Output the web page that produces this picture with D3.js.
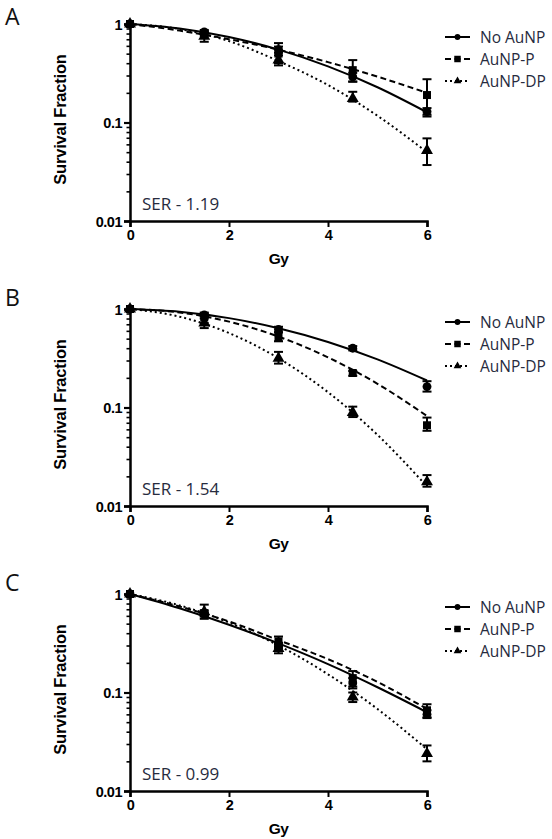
<!DOCTYPE html>
<html>
<head>
<meta charset="utf-8">
<script src="https://cdn.jsdelivr.net/npm/d3@7"></script>
<style>
  html, body { margin: 0; padding: 0; background: #fff; }
  svg { display: block; }
</style>
</head>
<body>
<svg id="chart" width="552" height="839"></svg>
<script>
// ---------------- DATA ----------------
const seriesNames = ["No AuNP", "AuNP-P", "AuNP-DP"];
const panelLetters = ["A", "B", "C"];
const serLabels = ["SER - 1.19", "SER - 1.54", "SER - 0.99"];
const doses = [0, 1.5, 3, 4.5, 6];
const fitDoses = [0, 1, 2, 3, 4, 5, 6];
const xTicks = [0, 2, 4, 6];
const yTicks = [1, 0.1, 0.01];
const yTickLabels = ["1", "0.1", "0.01"];

// Panel A
const aNoMean = [1, 0.83, 0.55, 0.29, 0.129];
const aNoLo   = [1, 0.79, 0.51, 0.26, 0.115];
const aNoHi   = [1, 0.87, 0.59, 0.32, 0.14];
const aPMean  = [1, 0.80, 0.50, 0.34, 0.19];
const aPLo    = [1, 0.76, 0.40, 0.26, 0.12];
const aPHi    = [1, 0.84, 0.64, 0.43, 0.275];
const aDPMean = [1, 0.75, 0.43, 0.175, 0.052];
const aDPLo   = [1, 0.66, 0.38, 0.163, 0.037];
const aDPHi   = [1, 0.82, 0.48, 0.205, 0.069];
const aNoFit  = [1, 0.90, 0.738, 0.549, 0.371, 0.228, 0.127];
const aPFit   = [1, 0.857, 0.70, 0.548, 0.41, 0.292, 0.20];
const aDPFit  = [1, 0.89, 0.67, 0.42, 0.24, 0.117, 0.05];

// Panel B
const bNoMean = [1, 0.87, 0.62, 0.40, 0.163];
const bNoLo   = [1, 0.84, 0.58, 0.38, 0.145];
const bNoHi   = [1, 0.90, 0.66, 0.42, 0.185];
const bPMean  = [1, 0.82, 0.52, 0.224, 0.066];
const bPLo    = [1, 0.72, 0.47, 0.21, 0.058];
const bPHi    = [1, 0.92, 0.58, 0.235, 0.079];
const bDPMean = [1, 0.72, 0.315, 0.089, 0.0176];
const bDPLo   = [1, 0.64, 0.279, 0.08, 0.0157];
const bDPHi   = [1, 0.80, 0.367, 0.102, 0.0206];
const bNoFit  = [1, 0.938, 0.808, 0.638, 0.463, 0.308, 0.188];
const bPFit   = [1, 0.923, 0.744, 0.525, 0.323, 0.174, 0.082];
const bDPFit  = [1, 0.836, 0.57, 0.316, 0.143, 0.0527, 0.0158];

// Panel C
const cNoMean = [1, 0.62, 0.30, 0.125, 0.06];
const cNoLo   = [1, 0.59, 0.28, 0.11, 0.055];
const cNoHi   = [1, 0.65, 0.32, 0.14, 0.066];
const cPMean  = [1, 0.64, 0.33, 0.14, 0.066];
const cPLo    = [1, 0.60, 0.29, 0.115, 0.056];
const cPHi    = [1, 0.68, 0.37, 0.165, 0.076];
const cDPMean = [1, 0.66, 0.28, 0.09, 0.024];
const cDPLo   = [1, 0.56, 0.25, 0.08, 0.020];
const cDPHi   = [1, 0.78, 0.31, 0.10, 0.029];
const cNoFit  = [1, 0.717, 0.488, 0.315, 0.194, 0.113, 0.063];
const cPFit   = [1, 0.747, 0.526, 0.34, 0.218, 0.128, 0.068];
const cDPFit  = [1, 0.766, 0.513, 0.30, 0.153, 0.068, 0.0265];

const panelData = [
  { mean: [aNoMean, aPMean, aDPMean], lo: [aNoLo, aPLo, aDPLo], hi: [aNoHi, aPHi, aDPHi], fit: [aNoFit, aPFit, aDPFit] },
  { mean: [bNoMean, bPMean, bDPMean], lo: [bNoLo, bPLo, bDPLo], hi: [bNoHi, bPHi, bDPHi], fit: [bNoFit, bPFit, bDPFit] },
  { mean: [cNoMean, cPMean, cDPMean], lo: [cNoLo, cPLo, cDPLo], hi: [cNoHi, cPHi, cDPHi], fit: [cNoFit, cPFit, cDPFit] }
];

// ---------------- LAYOUT / STYLE ----------------
const svg = d3.select("#chart");
const panelTops = [24, 309, 594];
const plotH = 197;
const x0 = 130, x1 = 427;
const ink = "#000";
const textInk = "#272b3e";
const dashes = [null, "6,3.5", "2,3"];
const markerTypes = [d3.symbolCircle, d3.symbolSquare, d3.symbolTriangle];
const markerSizes = [62, 64, 62];
const legendMarkerSizes = [26, 42, 26];

const x = d3.scaleLinear().domain([0, 6]).range([x0, x1]);

panelLetters.forEach((letter, pi) => {
  const top = panelTops[pi];
  const y = d3.scaleLog().domain([0.01, 1]).range([top + plotH, top]);
  const g = svg.append("g");
  const pd = panelData[pi];

  // panel letter
  g.append("text").attr("x", 5).attr("y", top + (pi === 0 ? 1 : -3) )
    .attr("font-family", "Open Sans, sans-serif").attr("font-size", 23)
    .attr("fill", "#111").text(letter);

  // axes
  const yAxis = d3.axisLeft(y).tickValues(yTicks).tickSize(6)
    .tickFormat((d, i) => yTickLabels[i]).tickPadding(2);
  const ya = g.append("g").attr("transform", `translate(${x0},0)`).call(yAxis);
  // minor ticks
  const minor = [];
  [0.01, 0.1].forEach(dec => { for (let k = 2; k <= 9; k++) minor.push(dec * k); });
  g.append("g").attr("transform", `translate(${x0},0)`)
    .call(d3.axisLeft(y).tickValues(minor).tickSize(3.5).tickFormat(""))
    .call(s => s.select(".domain").remove())
    .selectAll("line").attr("stroke", ink).attr("stroke-width", 1.6);

  const xAxis = d3.axisBottom(x).tickValues(xTicks).tickSize(6).tickFormat(d3.format("d")).tickPadding(3);
  const xa = g.append("g").attr("transform", `translate(0,${top + plotH})`).call(xAxis);

  [ya, xa].forEach(a => {
    a.select(".domain").attr("stroke", ink).attr("stroke-width", 2.5);
    a.selectAll(".tick line").attr("stroke", ink).attr("stroke-width", 2);
    a.selectAll(".tick text").attr("fill", ink)
      .attr("font-family", "Liberation Sans, Arial, sans-serif")
      .attr("font-weight", "bold").attr("font-size", 14.5).attr("letter-spacing", -0.5);
  });
  ya.selectAll(".tick text").attr("dy", "0.36em");
  ya.selectAll(".tick line").attr("stroke-width", 2.2);

  // axis titles
  g.append("text").attr("transform", `translate(66,${top + plotH / 2 - 3}) rotate(-90)`)
    .attr("text-anchor", "middle")
    .attr("font-family", "Liberation Sans, Arial, sans-serif").attr("font-weight", "bold")
    .attr("font-size", 16.5).attr("letter-spacing", -0.2).attr("fill", ink)
    .text("Survival Fraction");
  g.append("text").attr("x", (x0 + x1) / 2).attr("y", top + plotH + 43)
    .attr("text-anchor", "middle")
    .attr("font-family", "Liberation Sans, Arial, sans-serif").attr("font-weight", "bold")
    .attr("font-size", 15.5).attr("letter-spacing", -0.5).attr("fill", ink)
    .text("Gy");

  // SER label
  g.append("text").attr("x", 142).attr("y", top + plotH - 11)
    .attr("font-family", "Open Sans, sans-serif").attr("font-size", 17)
    .attr("fill", textInk).text(serLabels[pi]);

  // fitted curves
  const line = d3.line().x(d => x(d[0])).y(d => y(d[1])).curve(d3.curveMonotoneX);
  [2, 1, 0].forEach(si => {
    const pts = fitDoses.map((d, i) => [d, pd.fit[si][i]]);
    g.append("path").attr("d", line(pts)).attr("fill", "none")
      .attr("stroke", ink).attr("stroke-width", 2)
      .attr("stroke-dasharray", dashes[si]);
  });

  // error bars + markers
  [2, 1, 0].forEach(si => {
    doses.forEach((d, i) => {
      const lo = pd.lo[si][i], hi = pd.hi[si][i];
      if (hi > lo) {
        const cx = x(d);
        g.append("line").attr("x1", cx).attr("x2", cx).attr("y1", y(lo)).attr("y2", y(hi))
          .attr("stroke", ink).attr("stroke-width", 2);
        [lo, hi].forEach(v => {
          g.append("line").attr("x1", cx - 4.5).attr("x2", cx + 4.5).attr("y1", y(v)).attr("y2", y(v))
            .attr("stroke", ink).attr("stroke-width", 2);
        });
      }
    });
    g.selectAll(null).data(doses).enter().append("path")
      .attr("d", d3.symbol().type(markerTypes[si]).size(markerSizes[si]))
      .attr("transform", (d, i) => `translate(${x(d)},${y(pd.mean[si][i])})`)
      .attr("fill", ink);
  });

  // legend
  seriesNames.forEach((name, si) => {
    const ly = top + 13 + si * 22;
    g.append("line").attr("x1", 445).attr("x2", 470).attr("y1", ly).attr("y2", ly)
      .attr("stroke", ink).attr("stroke-width", 2).attr("stroke-dasharray", dashes[si]);
    g.append("path").attr("d", d3.symbol().type(markerTypes[si]).size(legendMarkerSizes[si]))
      .attr("transform", `translate(457.5,${ly})`).attr("fill", ink);
    g.append("text").attr("x", 480).attr("y", ly).attr("dy", "0.36em")
      .attr("font-family", "Open Sans, sans-serif").attr("font-size", 15.5)
      .attr("fill", textInk).text(name);
  });
});
</script>
</body>
</html>
